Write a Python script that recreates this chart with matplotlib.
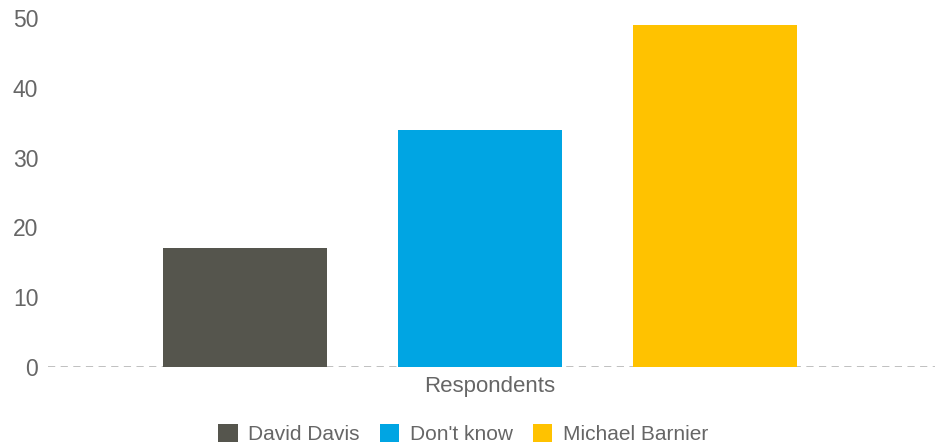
import matplotlib
matplotlib.use("Agg")
import matplotlib.pyplot as plt
from matplotlib.patches import Patch

plt.rcParams['font.family'] = ['Liberation Sans', 'DejaVu Sans']

series = ["David Davis", "Don't know", "Michael Barnier"]
values = [17, 34, 49]
colors = ["#55554D", "#00A5E3", "#FFC200"]
category = "Respondents"
yticks = [0, 10, 20, 30, 40, 50]

W, H = 940, 448
fig = plt.figure(figsize=(W / 100, H / 100), dpi=100)
ax = fig.add_axes([48 / W, (H - 367) / H, (935 - 48) / W, (367 - 18) / H])

x = list(range(len(series)))
ax.bar(x, values, width=0.698, color=colors, zorder=2)

ax.set_xlim(-0.838, 2.936)
ax.set_ylim(0, 50)
ax.set_yticks(yticks)
ax.set_yticklabels([str(t) for t in yticks], fontsize=16.5, color="#666666")
ax.tick_params(axis='y', length=0, pad=7)
ax.set_xticks([])
for s in ax.spines.values():
    s.set_visible(False)
ax.axhline(0, color="#BBBBBB", linestyle=(0, (4, 3)), linewidth=1.3, zorder=1)

fig.text(490 / W, 1 - 386 / H, category, ha='center', va='center', fontsize=16, color="#666666")

handles = [Patch(facecolor=c, edgecolor='none') for c in colors]
fig.legend(handles, series, loc='center', bbox_to_anchor=(463 / W, 1 - 434 / H),
           ncol=3, frameon=False, fontsize=15, labelcolor="#666666",
           handlelength=0.95, handleheight=0.95, handletextpad=0.5, columnspacing=0.95)

fig.savefig("out.png", dpi=100, facecolor="white")
